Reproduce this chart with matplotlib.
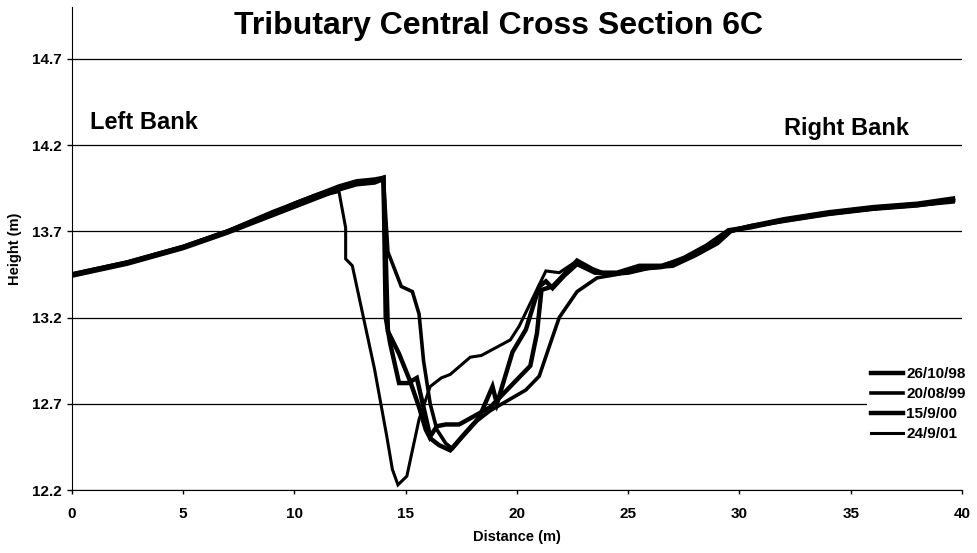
import numpy as np
import matplotlib
matplotlib.use('Agg')
from matplotlib import pyplot as plt

plt.rcParams['font.family'] = ['Liberation Sans', 'DejaVu Sans']
plt.rcParams['font.weight'] = 'bold'

# survey dates
labels = ['26/10/98', '20/08/99', '15/9/00', '24/9/01']

# 26/10/98
x98 = [0, 2.5, 5, 7, 9, 10, 11, 12, 12.8, 13.6, 14.0, 14.1, 14.3, 14.7, 15.1, 15.5,
       16.1, 16.4, 16.8, 17.4, 18.8, 20.6, 20.9, 21.1, 21.6, 21.9, 22.7, 23.4, 24.0,
       25.0, 26.0, 27.0, 28.0, 29.0, 29.6, 30.5, 32.0, 34.0, 36.0, 38.0, 39.6]
y98 = [13.45, 13.52, 13.61, 13.70, 13.80, 13.86, 13.91, 13.95, 13.98, 13.99, 14.01, 13.20,
       13.05, 12.82, 12.82, 12.85, 12.51, 12.57, 12.58, 12.58, 12.68, 12.92, 13.11, 13.36,
       13.38, 13.42, 13.53, 13.48, 13.45, 13.46, 13.49, 13.50, 13.56, 13.63, 13.70, 13.73,
       13.76, 13.80, 13.83, 13.85, 13.88]

# 20/08/99
x99 = [0, 2.5, 5, 7, 9, 10, 11, 12, 12.8, 13.6, 14.0, 14.2, 14.8, 15.3, 15.6, 15.8,
       16.1, 16.4, 16.8, 17.1, 17.5, 18.2, 18.8, 19.6, 20.4, 21.0, 21.5, 21.9, 22.7,
       23.6, 24.5, 25.5, 26.5, 27.5, 28.5, 29.5, 30.5, 32.0, 34.0, 36.0, 38.0, 39.6]
y99 = [13.44, 13.51, 13.60, 13.69, 13.79, 13.84, 13.89, 13.94, 13.97, 13.98, 14.00, 13.58,
       13.38, 13.35, 13.22, 12.95, 12.70, 12.55, 12.47, 12.44, 12.50, 12.60, 12.66, 12.72,
       12.78, 12.86, 13.05, 13.20, 13.35, 13.43, 13.45, 13.48, 13.49, 13.53, 13.60, 13.70,
       13.72, 13.76, 13.80, 13.83, 13.85, 13.87]

# 15/9/00
x00 = [0, 2.5, 5, 7, 9, 10, 11, 12, 12.8, 13.6, 14.0, 14.2, 14.7, 15.2, 15.6, 15.9,
       16.1, 16.5, 17.0, 17.6, 18.3, 18.9, 19.1, 19.8, 20.4, 21.0, 21.3, 21.6, 22.1,
       22.7, 23.5, 24.5, 25.5, 26.5, 27.5, 28.5, 29.5, 30.5, 32.0, 34.0, 36.0, 38.0, 39.6]
y00 = [13.45, 13.52, 13.61, 13.70, 13.81, 13.86, 13.91, 13.96, 13.99, 14.00, 14.01, 13.12,
       12.99, 12.83, 12.68, 12.55, 12.50, 12.46, 12.43, 12.52, 12.62, 12.80, 12.70, 13.00,
       13.13, 13.38, 13.41, 13.37, 13.44, 13.51, 13.46, 13.46, 13.50, 13.50, 13.54, 13.61,
       13.70, 13.73, 13.77, 13.81, 13.84, 13.86, 13.89]

# 24/9/01
x01 = [0, 2.5, 5, 7, 9, 10, 11, 12.0, 12.3, 12.3, 12.6, 13.0, 13.6, 14.15, 14.4, 14.65,
       15.05, 15.6, 16.1, 16.6, 17.0, 17.9, 18.4, 19.7, 20.1, 21.3, 21.9, 22.6, 23.5,
       24.5, 25.5, 26.5, 27.5, 28.5, 29.5, 30.5, 32.0, 34.0, 36.0, 38.0, 39.6]
y01 = [13.45, 13.52, 13.61, 13.70, 13.80, 13.85, 13.90, 13.93, 13.72, 13.54, 13.50, 13.26,
       12.90, 12.51, 12.32, 12.23, 12.28, 12.61, 12.80, 12.85, 12.87, 12.97, 12.98, 13.07,
       13.15, 13.47, 13.46, 13.52, 13.46, 13.45, 13.49, 13.50, 13.55, 13.62, 13.71, 13.73,
       13.77, 13.81, 13.84, 13.86, 13.88]

xs = [x98, x99, x00, x01]
ys = [y98, y99, y00, y01]
widths = [3.2, 2.6, 3.2, 2.2]

yticks = [12.2, 12.7, 13.2, 13.7, 14.2, 14.7]
xticks = [0, 5, 10, 15, 20, 25, 30, 35, 40]

fig = plt.figure(figsize=(9.78, 5.53), dpi=100)
ax = fig.add_axes([0.0736, 0.1139, 0.91, 0.8734])

for i in range(len(labels)):
  ax.plot(xs[i], ys[i], color='black', lw=widths[i], label=labels[i],
          solid_joinstyle='miter')

ax.set_xlim(0, 40)
ax.set_ylim(12.2, 15.0)
ax.set_xticks(xticks)
ax.set_yticks(yticks)
ax.set_yticklabels(['%.1f' % v for v in yticks])
ax.tick_params(axis='y', labelsize=11, length=3.6, width=1, pad=4, colors='black')
ax.tick_params(axis='x', labelsize=11, length=3, width=1, pad=9, colors='black')
ax.yaxis.grid(True, color='black', lw=0.9)
ax.set_axisbelow(True)
for s in ['top', 'right']:
  ax.spines[s].set_visible(False)

ax.set_xlabel('Distance (m)', fontsize=10.5, fontweight='bold', labelpad=7)
ax.set_ylabel('Height (m)', fontsize=10.5, fontweight='bold', labelpad=7)

fig.text(0.51, 0.953, 'Tributary Central Cross Section 6C', ha='center', va='center',
         fontsize=23, fontweight='bold')
ax.text(0.8, 14.29, 'Left Bank', fontsize=17, fontweight='bold', va='baseline')
ax.text(37.6, 14.26, 'Right Bank', fontsize=17, fontweight='bold', va='baseline', ha='right')

leg = ax.legend(loc='upper left', bbox_to_anchor=(0.893, 0.264), frameon=True,
                fontsize=11, handlelength=2.1, handletextpad=0.2, labelspacing=0.4,
                borderpad=0.3, borderaxespad=0, fancybox=False, framealpha=1)
leg.get_frame().set_edgecolor('none')
leg.get_frame().set_facecolor('white')

plt.savefig('out.png', dpi=100)
